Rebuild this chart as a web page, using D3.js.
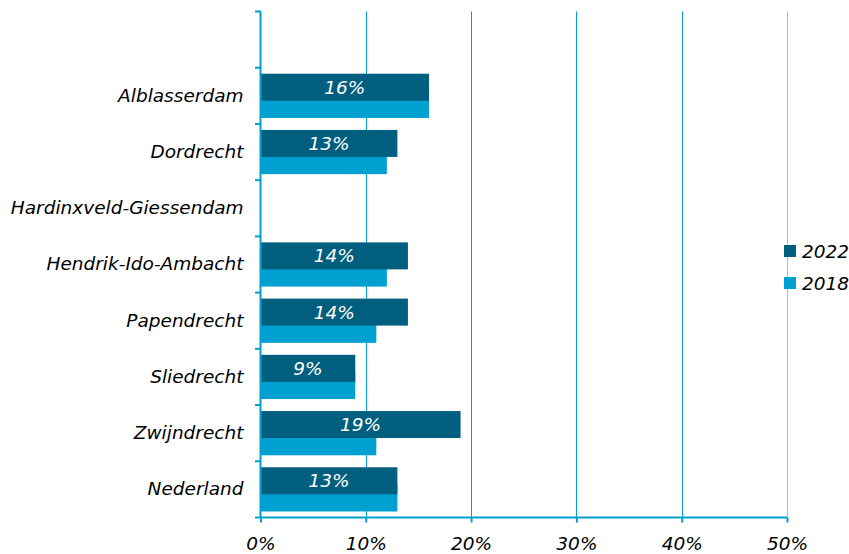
<!DOCTYPE html>
<html><head><meta charset="utf-8">
<script src="https://cdn.jsdelivr.net/npm/d3@7"></script>
<style>body{margin:0;background:#fff}svg{display:block}</style>
</head><body>
<svg id="c" width="849" height="554"></svg>
<script>
const categories = ["", "Alblasserdam", "Dordrecht", "Hardinxveld-Giessendam", "Hendrik-Ido-Ambacht", "Papendrecht", "Sliedrecht", "Zwijndrecht", "Nederland"];
const values2022 = [null, 16, 13, null, 14, 14, 9, 19, 13];
const values2018 = [null, 16, 12, null, 12, 11, 9, 11, 13];
const seriesNames = ["2022", "2018"];
const xTicks = [0, 10, 20, 30, 40, 50];

const dark = "#005e7e", light = "#00a0d0", axisCol = "#00a0d0";
const font = "'DejaVu Sans', Verdana, sans-serif";
const fs = "18.5px";
const svg = d3.select("#c");
const x = d3.scaleLinear().domain([0, 50]).range([260.5, 787]);
const y = d3.scaleBand().domain(categories).range([11.5, 517.5]);
const bw = y.bandwidth();

// gridlines
svg.append("g").selectAll("line").data(xTicks.filter(d => d > 0)).join("line")
  .attr("x1", d => Math.round(x(d)) + 0.5).attr("x2", d => Math.round(x(d)) + 0.5)
  .attr("y1", 11.5).attr("y2", 517.5)
  .attr("stroke", (d) => d === 50 ? "#7fd0ea" : axisCol).attr("stroke-width", 1);

const rows = categories.map((c, i) => ({c, v22: values2022[i], v18: values2018[i]})).filter(d => d.v22 != null);
const h = bw * 0.48;
// 2018 bars (behind)
svg.append("g").selectAll("rect").data(rows).join("rect")
  .attr("x", x(0)).attr("width", d => x(d.v18) - x(0))
  .attr("y", d => y(d.c) + bw - 6 - h).attr("height", h).attr("fill", light);
// 2022 bars
svg.append("g").selectAll("rect").data(rows).join("rect")
  .attr("x", x(0)).attr("width", d => x(d.v22) - x(0))
  .attr("y", d => y(d.c) + 6).attr("height", h).attr("fill", dark);
// labels
svg.append("g").selectAll("text").data(rows).join("text")
  .attr("x", d => (x(0) + x(d.v22)) / 2).attr("y", d => y(d.c) + 6 + h / 2 + 6.5)
  .attr("text-anchor", "middle").attr("fill", "#fff")
  .style("font", `italic ${fs} ${font}`).text(d => d.v22 + "%");

// y axis
const ya = svg.append("g").attr("transform", "translate(260.5,0)")
  .call(d3.axisLeft(y).tickSize(0).tickPadding(17));
ya.select(".domain").attr("stroke", axisCol).attr("stroke-width", 2).attr("d", "M0,11.5V517.5");
ya.selectAll("text").style("font", `italic ${fs} ${font}`).attr("fill", "#000");
svg.append("g").selectAll("line").data(d3.range(categories.length + 1)).join("line")
  .attr("x1", 255).attr("x2", 261).attr("y1", i => 11.5 + i * bw).attr("y2", i => 11.5 + i * bw)
  .attr("stroke", axisCol).attr("stroke-width", 2);

// x axis
const xa = svg.append("g").attr("transform", "translate(0,517.5)")
  .call(d3.axisBottom(x).tickValues(xTicks).tickFormat(d => d + "%").tickSize(5).tickPadding(14));
xa.select(".domain").attr("stroke", axisCol).attr("stroke-width", 2).attr("d", "M260.5,0H787");
xa.selectAll(".tick line").attr("stroke", axisCol).attr("stroke-width", 2);
xa.selectAll("text").style("font", `italic ${fs} ${font}`).attr("fill", "#000");

// legend
const lg = svg.append("g");
[dark, light].forEach((col, i) => {
  lg.append("rect").attr("x", 784).attr("y", 245 + i * 32).attr("width", 12).attr("height", 12).attr("fill", col);
  lg.append("text").attr("x", 802).attr("y", 258 + i * 32).style("font", `italic ${fs} ${font}`).attr("fill", "#000").text(seriesNames[i]);
});
</script>
</body></html>
